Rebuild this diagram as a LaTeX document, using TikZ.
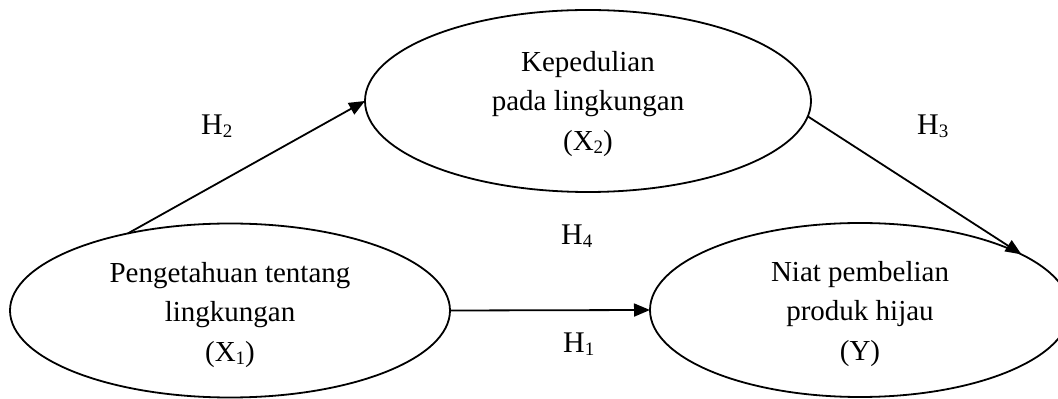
\documentclass[tikz,border=0pt]{standalone}
\usepackage{fontspec}
\setmainfont{Liberation Serif}
\usetikzlibrary{arrows.meta,shapes.geometric}
% lowered subscript digit used in variable and hypothesis labels
\newcommand{\lowidx}[1]{\raisebox{-3pt}{\fontsize{19}{19}\selectfont #1}}
\begin{document}
\begin{tikzpicture}[x=1pt,y=1pt,
  oval/.style={draw, ellipse, line width=1.8pt, inner sep=0pt, outer sep=0pt},
  txt/.style={align=center, inner sep=0pt, font=\fontsize{29}{39.5}\selectfont},
  hyp/.style={anchor=base west, inner sep=0pt, font=\fontsize{30}{30}\selectfont},
  link/.style={line width=1.8pt, -{Triangle[length=16pt,width=13pt]}}]
\useasboundingbox (0,0) rectangle (1058,399);

% constructs
\node[oval, minimum width=440pt, minimum height=174pt] (X1) at (230,88.5) {};
\node[oval, minimum width=446pt, minimum height=182pt] (X2) at (588,298) {};
\node[oval, minimum width=420pt, minimum height=174pt] (Y)  at (860,89) {};

\node[txt] (X1t) at ([yshift=-4.5pt]X1.center) {Pengetahuan tentang\\lingkungan\\(X\lowidx{1})};
\node[txt] (X2t) at ([yshift=-3pt]X2.center) {Kepedulian\\pada lingkungan\\(X\lowidx{2})};
\node[txt] (Yt)  at ([yshift=-4pt]Y.center) {Niat pembelian\\produk hijau\\(Y)};

% paths between constructs
\draw[link] (X1.143.2) -- (X2.west);
\draw[link] (X2.-4.9) -- (Y.19.6);
\draw[link] (X1.east) -- (Y.west);

% hypothesis labels
\node[hyp] (h2) at (201,264) {H\lowidx{2}};
\node[hyp] (h3) at (917,264) {H\lowidx{3}};
\node[hyp] (h4) at (561,154) {H\lowidx{4}};
\node[hyp] (h1) at (563,46)  {H\lowidx{1}};
\end{tikzpicture}
\end{document}
